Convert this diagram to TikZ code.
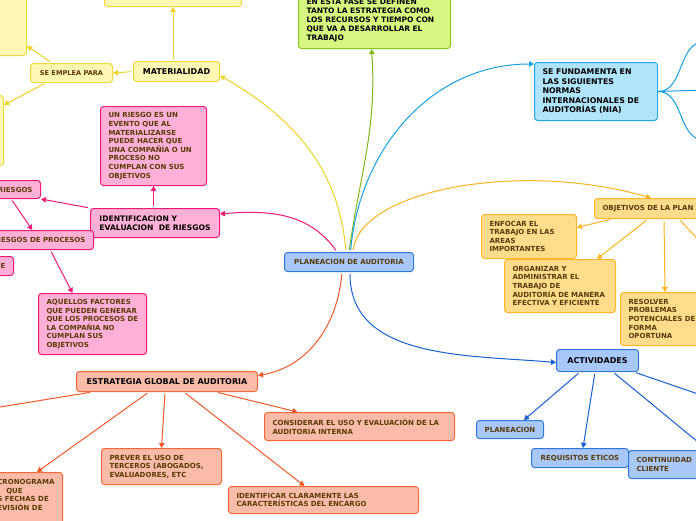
\documentclass[tikz,border=0pt]{standalone}
\usepackage{fontspec}
\setmainfont{DejaVu Sans}
\usetikzlibrary{arrows.meta}

\begin{document}
\begin{tikzpicture}[x=1pt,y=-1pt,
  box/.style={rounded corners=3pt, line width=1pt, inner xsep=8pt, inner ysep=3pt, align=left, text=brn, font=\fontsize{7}{8.6}\selectfont\bfseries},
  head/.style={text=black, font=\fontsize{8}{9.4}\selectfont\bfseries},
  bluebox/.style={box, fill=blue fill, draw=blue edge},
  niabox/.style={box, fill=nia fill, draw=nia edge},
  ylwbox/.style={box, fill=ylw fill, draw=ylw edge},
  grnbox/.style={box, fill=grn fill, draw=grn edge},
  pinkbox/.style={box, fill=pink fill, draw=pink edge},
  salbox/.style={box, fill=sal fill, draw=sal edge},
  orgbox/.style={box, fill=org fill, draw=org edge},
  link/.style={-{Triangle[length=5pt,width=5.5pt]}, line width=1pt, shorten <=2pt}]
\definecolor{brn}{RGB}{90,58,10}
\definecolor{blue fill}{RGB}{168,200,250}
\definecolor{blue edge}{RGB}{50,120,220}
\definecolor{blue line}{RGB}{21,96,210}
\definecolor{nia fill}{RGB}{176,228,250}
\definecolor{nia edge}{RGB}{40,168,232}
\definecolor{nia line}{RGB}{24,160,232}
\definecolor{ylw fill}{RGB}{255,247,180}
\definecolor{ylw edge}{RGB}{238,216,60}
\definecolor{ylw line}{RGB}{236,212,40}
\definecolor{grn fill}{RGB}{214,248,128}
\definecolor{grn edge}{RGB}{140,196,30}
\definecolor{grn line}{RGB}{128,184,24}
\definecolor{pink fill}{RGB}{255,176,214}
\definecolor{pink edge}{RGB}{238,26,120}
\definecolor{sal fill}{RGB}{250,188,168}
\definecolor{sal edge}{RGB}{244,104,60}
\definecolor{sal line}{RGB}{244,88,40}
\definecolor{org fill}{RGB}{254,220,140}
\definecolor{org edge}{RGB}{250,184,40}
\definecolor{org line}{RGB}{250,180,30}
\useasboundingbox[fill=white] (0,0) rectangle (696,520);

% centro
\node[bluebox, minimum width=129pt, minimum height=19pt, anchor=north west] (plan) at (284,252) {PLANEACION DE AUDITORIA};

% materialidad
\node[ylwbox, head, minimum width=86pt, minimum height=20pt, anchor=north west] (mat) at (133,61) {MATERIALIDAD};
\node[ylwbox, minimum width=137pt, minimum height=26pt, anchor=north west] (ytop) at (104,-20) {};
\node[ylwbox, minimum width=46pt, minimum height=75pt, anchor=north west] (yside) at (-20,-20) {};
\node[ylwbox, minimum width=82pt, minimum height=19pt, anchor=north west, font=\fontsize{6.6}{8}\selectfont\bfseries] (uso) at (30,63) {SE EMPLEA PARA};
\node[ylwbox, minimum width=23pt, minimum height=70pt, anchor=north west] (yside2) at (-20,95) {};

% fase
\node[grnbox, text=black, font=\fontsize{7.5}{9}\selectfont\bfseries, text width=136pt, minimum height=56pt, anchor=north west] (fase) at (298,-8) {EN ESTA FASE SE DEFINEN\\TANTO LA ESTRATEGIA COMO\\LOS RECURSOS Y TIEMPO CON\\QUE VA A DESARROLLAR EL\\TRABAJO};

% normas
\node[niabox, text=black, font=\fontsize{7.8}{9.5}\selectfont\bfseries, text width=107pt, minimum height=58pt, anchor=north west] (nia) at (534,62) {SE FUNDAMENTA EN\\LAS SIGUIENTES\\NORMAS\\INTERNACIONALES DE\\AUDITORÍAS (NIA)};
\coordinate (nia up) at (704,42);
\coordinate (nia mid) at (704,90);
\coordinate (nia low) at (704,140);

% riesgos
\node[pinkbox, head, font=\fontsize{7.6}{9.2}\selectfont\bfseries, minimum width=129pt, minimum height=29pt, anchor=north west] (ident) at (90,208) {IDENTIFICACION Y\\EVALUACION\ \ DE RIESGOS};
\node[pinkbox, text width=90pt, minimum height=79pt, anchor=north west] (riesgo) at (100,106) {UN RIESGO ES UN\\EVENTO QUE AL\\MATERIALIZARSE\\PUEDE HACER QUE\\UNA COMPAÑÍA O UN\\PROCESO NO\\CUMPLAN CON SUS\\OBJETIVOS};
\node[pinkbox, minimum height=18pt, anchor=north east] (r1) at (41,180) {RIESGOS};
\node[pinkbox, minimum height=19pt, anchor=north east] (r2) at (94,230) {RIESGOS DE PROCESOS};
\node[pinkbox, minimum height=19pt, anchor=north east] (r3) at (14,256) {DE};
\node[pinkbox, text width=92pt, minimum height=61pt, anchor=north west] (factores) at (38,293) {AQUELLOS FACTORES\\QUE PUEDEN GENERAR\\QUE LOS PROCESOS DE\\LA COMPAÑIA NO\\CUMPLAN SUS\\OBJETIVOS};

% estrategia
\node[salbox, head, minimum width=181pt, minimum height=20pt, anchor=north west] (estr) at (76,371) {ESTRATEGIA GLOBAL DE AUDITORIA};
\node[salbox, inner ysep=7pt, anchor=north east] (crono) at (63,472) {CRONOGRAMA\\\hspace*{9pt}QUE\\S FECHAS DE\\EVISIÓN DE\\~};
\node[salbox, text width=104pt, minimum height=36pt, anchor=north west] (terceros) at (101,448) {PREVER EL USO DE\\TERCEROS (ABOGADOS,\\EVALUADORES, ETC};
\node[salbox, text width=174pt, minimum height=27pt, anchor=north west] (encargo) at (228,486) {IDENTIFICAR CLARAMENTE LAS\\CARACTERÍSTICAS DEL ENCARGO};
\node[salbox, text width=174pt, minimum height=28pt, anchor=north west] (interna) at (264,412) {CONSIDERAR EL USO Y EVALUACIÓN DE LA\\AUDITORIA INTERNA};
\coordinate (estr out) at (-6,408);

% objetivos
\node[orgbox, minimum height=20pt, anchor=north west] (objet) at (594,198) {OBJETIVOS DE LA PLAN};
\node[orgbox, text width=79pt, minimum height=44pt, anchor=north west] (enfocar) at (481,214) {ENFOCAR EL\\TRABAJO EN LAS\\AREAS\\IMPORTANTES};
\node[orgbox, text width=95pt, minimum height=53pt, anchor=north west] (organizar) at (504,259) {ORGANIZAR Y\\ADMINISTRAR EL\\TRABAJO DE\\AUDITORÍA DE MANERA\\EFECTIVA Y EFICIENTE};
\node[orgbox, minimum width=80pt, minimum height=53pt, anchor=north west] (resolver) at (620,292) {RESOLVER\\PROBLEMAS\\POTENCIALES DE\\FORMA\\OPORTUNA};
\coordinate (obj out) at (704,246);

% actividades
\node[bluebox, head, minimum width=82pt, minimum height=22pt, anchor=north west] (activ) at (556,349) {ACTIVIDADES};
\node[bluebox, minimum width=67pt, minimum height=18pt, anchor=north west] (planeac) at (476,420) {PLANEACION};
\node[bluebox, minimum width=97pt, minimum height=19pt, anchor=north west] (requis) at (531,448) {REQUISITOS ETICOS};
\node[bluebox, text width=56pt, minimum height=28pt, anchor=north west] (contin) at (628,450) {CONTINUIDAD\\CLIENTE};
\coordinate (act out1) at (704,447);
\coordinate (act out2) at (704,396);

% conectores
\draw[link, ylw line] ([xshift=-3pt]plan.north) to[out=95,in=-30] ([yshift=-4pt]mat.east);
\draw[link, ylw line] (mat.north -| ytop.south) -- (ytop.south);
\draw[link, ylw line] (mat.west) -- (uso.east);
\draw[link, ylw line] (uso.153) -- ([yshift=10pt]yside.south east);
\draw[link, ylw line] ([xshift=-26pt]uso.south) -- ([yshift=-10pt]yside2.north east);
\draw[link, grn line] (plan.north) to[out=82,in=-86] ([xshift=-3pt]fase.south);
\draw[link, nia line] ([xshift=1.5pt]plan.north) to[out=85,in=180] ([yshift=-2pt]nia.north west);
\draw[line width=1pt, nia line] (nia.east) to[out=0,in=180] (nia up);
\draw[line width=1pt, nia line] (nia.east) -- (nia mid);
\draw[line width=1pt, nia line] (nia.east) to[out=0,in=180] (nia low);
\draw[link, pink edge] ([xshift=-12pt]plan.north) to[out=125,in=5] ([yshift=9pt]ident.east);
\draw[link, pink edge] (riesgo.south |- ident.north) -- (riesgo.south);
\draw[link, pink edge] (ident.north west) -- (r1.south east);
\draw[link, pink edge] ([xshift=-4pt]r1.south) -- ([xshift=-7pt]r2.north);
\draw[link, pink edge] ([xshift=11pt]r2.south) -- ([xshift=-20pt]factores.north);
\draw[link, sal line] ([xshift=-7pt]plan.south) to[out=-95,in=10] ([yshift=6pt]estr.east);
\draw[link, sal line] ([xshift=16pt]estr.south west) -- (estr out);
\draw[link, sal line] ([xshift=-18pt]estr.south) -- ([xshift=-26pt]crono.north east);
\draw[link, sal line] ([xshift=-2pt]estr.south) -- (terceros.north);
\draw[link, sal line] ([xshift=17pt]estr.south) -- ([xshift=-19pt]encargo.north);
\draw[link, sal line] ([xshift=-42pt]estr.south east) -- ([xshift=-62pt]interna.north);
\draw[link, org line] ([xshift=4pt]plan.north) .. controls (360,190) and (520,160) .. ([xshift=3pt]objet.north);
\draw[link, org line] ([xshift=18pt]objet.south west) -- ([yshift=9pt]enfocar.east);
\draw[link, org line] ([xshift=54pt]objet.south west) -- ([xshift=37pt]organizar.north);
\draw[link, org line] ([xshift=70pt]objet.south west) -- ([xshift=3pt]resolver.north);
\draw[link, org line] ([xshift=85pt]objet.south west) -- (obj out);
\draw[link, blue line] ([xshift=1pt]plan.south) to[out=-90,in=175] ([yshift=-2pt]activ.west);
\draw[link, blue line] ([xshift=24pt]activ.south west) -- ([xshift=14pt]planeac.north);
\draw[link, blue line] ([xshift=39pt]activ.south west) -- ([xshift=3pt]requis.north);
\draw[link, blue line] ([xshift=57pt]activ.south west) -- (act out1);
\draw[link, blue line] ([xshift=78pt]activ.south west) -- (act out2);

\end{tikzpicture}
\end{document}
